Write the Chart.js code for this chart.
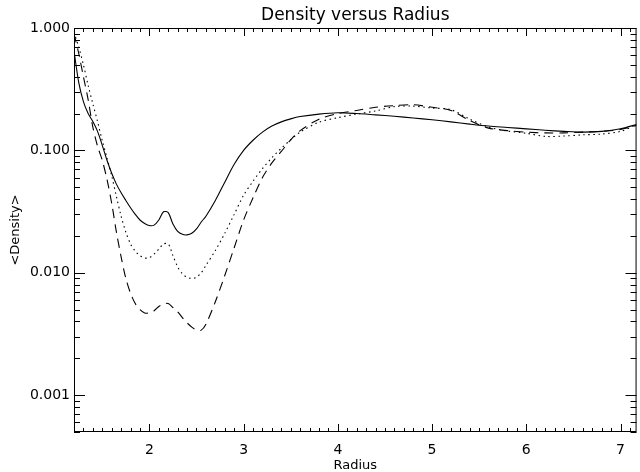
<!DOCTYPE html>
<html>
<head>
<meta charset="utf-8">
<script src="https://cdn.jsdelivr.net/npm/chart.js@4/dist/chart.umd.min.js"></script>
<style>
  html, body { margin: 0; padding: 0; background: #fff; }
  #wrap { width: 640px; height: 472px; }
</style>
</head>
<body>
<div id="wrap"><canvas id="chart" width="640" height="472"></canvas></div>
<script>
// radius values shared by the three curves
const radius = [1.20, 1.25, 1.30, 1.35, 1.40, 1.45, 1.50, 1.55, 1.60, 1.65, 1.70, 1.75, 1.80, 1.85, 1.90, 1.95,
  2.00, 2.05, 2.10, 2.15, 2.20, 2.25, 2.30, 2.35, 2.40, 2.45, 2.50, 2.55, 2.60, 2.70, 2.80, 2.90,
  3.00, 3.10, 3.20, 3.30, 3.40, 3.50, 3.60, 3.80, 4.00, 4.20, 4.40, 4.60, 4.80, 5.00, 5.20, 5.40,
  5.60, 5.80, 6.00, 6.20, 6.40, 6.60, 6.80, 7.00, 7.17]

const solid = [0.65, 0.36, 0.250, 0.200, 0.172, 0.143, 0.110, 0.083, 0.065, 0.053, 0.045, 0.039, 0.034, 0.030, 0.027, 0.0253,
  0.0243, 0.0245, 0.027, 0.0315, 0.031, 0.025, 0.0218, 0.0206, 0.0204, 0.0210, 0.0228, 0.026, 0.029, 0.039, 0.055, 0.077,
  0.100, 0.121, 0.141, 0.158, 0.171, 0.181, 0.189, 0.198, 0.203, 0.200, 0.195, 0.190, 0.184, 0.178, 0.171, 0.164,
  0.158, 0.154, 0.150, 0.146, 0.143, 0.141, 0.143, 0.150, 0.163]

const dotted = [0.92, 0.70, 0.50, 0.34, 0.24, 0.172, 0.12, 0.087, 0.062, 0.042, 0.029, 0.0215, 0.0172, 0.0150, 0.0138, 0.0132,
  0.0133, 0.0142, 0.0156, 0.0172, 0.0172, 0.0138, 0.0112, 0.0098, 0.0092, 0.0090, 0.0092, 0.0100, 0.0115, 0.0152, 0.021, 0.030,
  0.043, 0.056, 0.071, 0.087, 0.104, 0.122, 0.141, 0.170, 0.185, 0.198, 0.210, 0.228, 0.230, 0.222, 0.215, 0.180,
  0.155, 0.144, 0.138, 0.130, 0.131, 0.134, 0.136, 0.143, 0.162]

const dashed = [0.90, 0.62, 0.40, 0.26, 0.155, 0.108, 0.083, 0.058, 0.037, 0.0215, 0.0135, 0.0090, 0.0068, 0.0056, 0.0050, 0.0047,
  0.0047, 0.0049, 0.0053, 0.0056, 0.0056, 0.0052, 0.0048, 0.0043, 0.0039, 0.0036, 0.0034, 0.0034, 0.0038, 0.0058, 0.0095, 0.0160,
  0.027, 0.041, 0.060, 0.079, 0.098, 0.122, 0.145, 0.180, 0.200, 0.212, 0.225, 0.232, 0.236, 0.225, 0.212, 0.175,
  0.152, 0.145, 0.141, 0.139, 0.139, 0.141, 0.143, 0.148, 0.160]

// tick values (minor + major)
const xTicks = []
for (let i = 12; i <= 71; i++) xTicks.push(i / 10)
const yTicks = []
for (let e = -4; e <= -1; e++) {
  for (let m = 1; m <= 9; m++) {
    const v = +(m * Math.pow(10, e)).toPrecision(3)
    if (v >= 0.0005) yTicks.push(v)
  }
}
yTicks.push(1)

const isWhole = v => Math.abs(v - Math.round(v)) < 1e-6
const isDecade = v => isWhole(Math.log10(v))

const points = arr => radius.map((r, i) => ({x: r, y: arr[i]}))

const line = (label, arr, dash) => ({
  label: label,
  data: points(arr),
  borderColor: '#000',
  borderWidth: 1.1,
  borderDash: dash,
  pointRadius: 0,
  tension: 0.3,
  fill: false
})

// IDL style box with inward ticks on all four sides
const boxTicks = {
  id: 'boxTicks',
  afterDraw(chart) {
    const {ctx, chartArea: a, scales: {x, y}} = chart
    ctx.save()
    ctx.strokeStyle = '#000'
    ctx.lineWidth = 1
    ctx.strokeRect(a.left + 0.5, a.top + 0.5, a.right - a.left - 1, a.bottom - a.top - 1)
    ctx.beginPath()
    x.ticks.forEach(t => {
      const px = Math.round(x.getPixelForValue(t.value)) + 0.5
      const len = isWhole(t.value) ? 8 : 4
      ctx.moveTo(px, a.bottom); ctx.lineTo(px, a.bottom - len)
      ctx.moveTo(px, a.top); ctx.lineTo(px, a.top + len)
    })
    y.ticks.forEach(t => {
      const py = Math.round(y.getPixelForValue(t.value)) + 0.5
      const len = isDecade(t.value) ? 11 : 6
      ctx.moveTo(a.left, py); ctx.lineTo(a.left + len, py)
      ctx.moveTo(a.right, py); ctx.lineTo(a.right - len, py)
    })
    ctx.stroke()
    ctx.restore()
  }
}

const font = 'DejaVu Sans'

new Chart(document.getElementById('chart'), {
  type: 'line',
  data: {
    datasets: [
      line('solid', solid, []),
      line('dotted', dotted, [1.5, 3.5]),
      line('dashed', dashed, [9, 6])
    ]
  },
  options: {
    responsive: false,
    animation: false,
    layout: {padding: 0},
    plugins: {
      legend: {display: false},
      tooltip: {enabled: false},
      title: {
        display: true,
        text: 'Density versus Radius',
        color: '#000',
        fullSize: false,
        font: {family: font, size: 17, weight: 'normal', lineHeight: 1.2},
        padding: {top: 5, bottom: 2.6}
      }
    },
    scales: {
      x: {
        type: 'linear',
        min: 1.2,
        max: 7.17,
        afterBuildTicks: s => { s.ticks = xTicks.map(v => ({value: v})) },
        afterFit: s => { s.height = 40 },
        grid: {display: false, drawTicks: false},
        border: {display: false},
        ticks: {
          autoSkip: false,
          maxRotation: 0,
          padding: 10,
          color: '#000',
          font: {family: font, size: 14},
          callback: v => isWhole(v) ? String(Math.round(v)) : ''
        },
        title: {
          display: true,
          text: 'Radius',
          color: '#000',
          font: {family: font, size: 13, lineHeight: 1.2},
          padding: {top: 0, bottom: -1}
        }
      },
      y: {
        type: 'logarithmic',
        min: 0.0005,
        max: 1,
        afterBuildTicks: s => { s.ticks = yTicks.map(v => ({value: v})) },
        afterFit: s => { s.width = 74 },
        grid: {display: false, drawTicks: false},
        border: {display: false},
        ticks: {
          autoSkip: false,
          padding: 4,
          color: '#000',
          font: {family: font, size: 14},
          callback: v => isDecade(v) ? v.toFixed(3) : ''
        },
        title: {
          display: true,
          text: '<Density>',
          color: '#000',
          font: {family: font, size: 13, lineHeight: 1.2},
          padding: {top: 8, bottom: 0}
        }
      }
    }
  },
  plugins: [boxTicks]
})
</script>
</body>
</html>
